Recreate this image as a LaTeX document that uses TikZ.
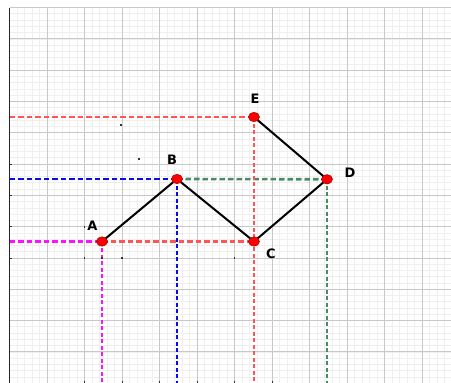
\documentclass[tikz,border=0pt]{standalone}
\usepackage{fontspec}
\newfontfamily\lblfont{DejaVu Sans}
\usetikzlibrary{shapes.geometric}
\definecolor{dred}{HTML}{FF5555}
\definecolor{dblue}{HTML}{0A0AF0}
\definecolor{dmag}{HTML}{FF10FF}
\definecolor{dgreen}{HTML}{4A8A68}
\definecolor{gmajor}{HTML}{C8C8C8}
\definecolor{gminor}{HTML}{EFEFEF}
\tikzset{
  minorgrid/.style={gminor, line width=0.8pt},
  majorgrid/.style={gmajor, line width=1pt},
  hdash/.style={line width=2.6pt, dash pattern=on 5.5pt off 3pt},
  vdash/.style={line width=2.8pt, dash pattern=on 4pt off 2.5pt},
  seg/.style={line width=2pt, black},
  pt/.style={ellipse, draw=red!60!black, line width=0.5pt, fill=red, minimum width=11pt, minimum height=9.5pt, inner sep=0pt},
  lbl/.style={font=\lblfont\bfseries\fontsize{13}{13}\selectfont, inner sep=0pt},
  speck/.style={fill=black!80, minimum size=1.6pt, inner sep=0pt, rectangle}
}
\begin{document}
\begin{tikzpicture}[x=1pt,y=-1pt]
\useasboundingbox (0,0) rectangle (451,383);
\fill[white] (0,0) rectangle (451,383);
\begin{scope}
\clip (9.5,7.6) rectangle (451,383);
\foreach \i in {0,...,60} \draw[minorgrid] ({9.5+7.5*\i},7.6) -- ({9.5+7.5*\i},383);
\foreach \j in {0,...,61} \draw[minorgrid] (9.5,{7.6+6.26*\j}) -- (451,{7.6+6.26*\j});
\foreach \i in {0,...,12} \draw[majorgrid] ({9.5+37.5*\i},7.6) -- ({9.5+37.5*\i},383);
\foreach \j in {0,...,12} \draw[majorgrid] (9.5,{7.6+31.3*\j}) -- (451,{7.6+31.3*\j});
\end{scope}
\draw[black!85, line width=1.2pt] (9.5,7.6) -- (9.5,383);
\foreach \y in {164.1,195.4,226.7,258} \draw[black!80, line width=0.8pt] (9.5,\y) -- (11.5,\y);
\foreach \x in {84.5,122,159.5,197,234.5,272} \draw[black!80, line width=0.8pt] (\x,380.5) -- (\x,383);

% points (coordinates)
\coordinate (Ap) at (102,241.5);
\coordinate (Bp) at (177,179);
\coordinate (Cp) at (254,241.5);
\coordinate (Dp) at (327,179.3);
\coordinate (Ep) at (254,117);
\coordinate (lE) at (9.5,117);
\coordinate (lB) at (9.5,179);
\coordinate (lA) at (9.5,241.5);
\coordinate (bA) at (102,383);
\coordinate (bB) at (177,383);
\coordinate (bC) at (254,383);
\coordinate (bD) at (327,383);

% dashed projections
\draw[hdash, dred] (lE) -- (Ep);
\draw[hdash, dblue] (lB) -- (Bp);
\draw[hdash, dgreen] (Bp) -- (Dp);
\draw[hdash, dmag] (lA) -- (Ap);
\draw[hdash, dred] (Ap) -- (Cp);
\draw[vdash, dred] (Ep) -- (bC);
\draw[vdash, dblue] (Bp) -- (bB);
\draw[vdash, dmag] (Ap) -- (bA);
\draw[vdash, dgreen] (Dp) -- (bD);

% specks
\foreach \p in {(121,125),(139,159),(84.5,227),(84.5,258),(102,258),(122,258),(234.5,258)}
  \node[speck] at \p {};

% segments
\draw[seg] (Ap) -- (Bp) -- (Cp) -- (Dp) -- (Ep);

% point markers
\node[pt] (A) at (Ap) {};
\node[pt] (B) at (Bp) {};
\node[pt] (C) at (Cp) {};
\node[pt] (D) at (Dp) {};
\node[pt] (E) at (Ep) {};

% labels
\node[lbl] (lblA) at (92.5,225.5) {A};
\node[lbl] (lblB) at (172,160) {B};
\node[lbl] (lblC) at (271,253.5) {C};
\node[lbl] (lblD) at (350,173) {D};
\node[lbl] (lblE) at (255,99) {E};
\end{tikzpicture}
\end{document}
